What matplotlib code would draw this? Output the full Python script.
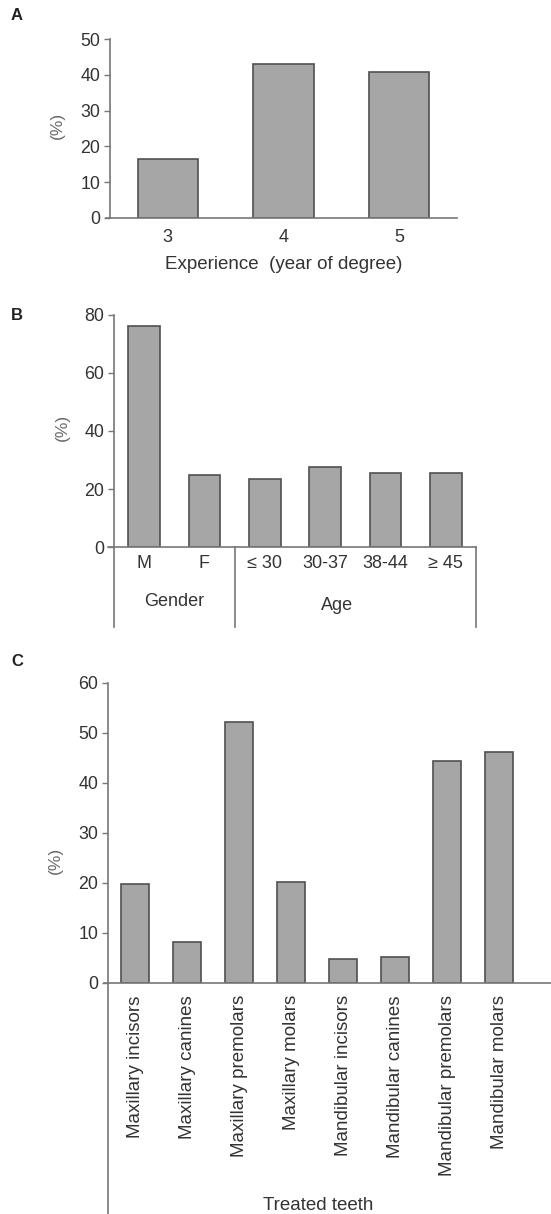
import matplotlib
matplotlib.use("Agg")
import matplotlib.pyplot as plt
import numpy as np

plt.rcParams['font.family'] = ['Liberation Sans', 'DejaVu Sans']

# ---- data ----
exp_categories = ["3", "4", "5"]
exp_values = [16.5, 43.0, 40.8]

demo_categories = ["M", "F", "\u2264 30", "30-37", "38-44", "\u2265 45"]
demo_values = [76.3, 24.8, 23.3, 27.7, 25.6, 25.6]
demo_groups = ["Gender", "Age"]
demo_group_sizes = [2, 4]

teeth_categories = ["Maxillary incisors", "Maxillary canines", "Maxillary premolars",
                    "Maxillary molars", "Mandibular incisors", "Mandibular canines",
                    "Mandibular premolars", "Mandibular molars"]
teeth_values = [19.7, 8.1, 52.1, 20.2, 4.7, 5.1, 44.4, 46.1]

W, H = 551, 1214
fig = plt.figure(figsize=(W / 100, H / 100), dpi=100)

BAR_FACE = "#a6a6a6"
BAR_EDGE = "#505050"
SPINE = "#777777"
TXT = "#333333"


def px_axes(left, right, top, bottom):
    return fig.add_axes([left / W, 1 - bottom / H, (right - left) / W, (bottom - top) / H])


def style(ax, ext_px):
    for s in ["top", "right"]:
        ax.spines[s].set_visible(False)
    for s in ["left", "bottom"]:
        ax.spines[s].set_color(SPINE)
        ax.spines[s].set_linewidth(1.2)
    ax.tick_params(axis="y", direction="out", length=4, width=1.0, color=SPINE,
                   labelsize=12.8, labelcolor=TXT, pad=3)
    ax.tick_params(axis="x", length=0, labelsize=13, labelcolor=TXT)
    # baseline extends slightly left of the y axis
    w_px = ax.get_position().width * W
    ax.plot([-ext_px / w_px, 0], [0, 0], transform=ax.transAxes, color=SPINE,
            lw=1.2, clip_on=False)


# ---- Panel A ----
axA = px_axes(110, 457, 39, 218)
xA = np.arange(len(exp_values))
axA.bar(xA, exp_values, width=0.52, color=BAR_FACE, edgecolor=BAR_EDGE, linewidth=1.2)
axA.set_xlim(-0.5, 2.5)
axA.set_ylim(0, 50)
axA.set_yticks(np.arange(0, 51, 10))
axA.set_xticks(xA)
axA.set_xticklabels(exp_categories)
style(axA, 4)
axA.tick_params(axis="x", pad=8)
axA.set_xlabel("Experience  (year of degree)", fontsize=13.5, color=TXT, labelpad=7)
fig.text(17 / W, 1 - 16 / H, "A", fontsize=12, fontweight="bold", color="#222222",
         ha="center", va="center")
fig.text(57 / W, 1 - 125 / H, "(%)", fontsize=12.5, color="#6a6a6a", rotation=90,
         ha="center", va="center")

# ---- Panel B ----
axB = px_axes(114, 476, 315, 547)
xB = np.arange(len(demo_values))
axB.bar(xB, demo_values, width=0.52, color=BAR_FACE, edgecolor=BAR_EDGE, linewidth=1.2)
axB.set_xlim(-0.5, len(demo_values) - 0.5)
axB.set_ylim(0, 80)
axB.set_yticks(np.arange(0, 81, 20))
axB.set_xticks(xB)
axB.set_xticklabels(demo_categories)
style(axB, 6)
axB.tick_params(axis="x", pad=6)
# group separators
drop = -80 / 232
bounds = np.concatenate([[0], np.cumsum(demo_group_sizes)]) - 0.5
trans = axB.get_xaxis_transform()
for b in bounds:
    axB.plot([b, b], [0, drop], transform=trans, color=SPINE, lw=1.2, clip_on=False)
group_x = [0.5, 3.2]
group_y = [-55 / 232, -58 / 232]
for g, gx, gy in zip(demo_groups, group_x, group_y):
    axB.text(gx, gy, g, transform=trans, ha="center", va="center", fontsize=13, color=TXT)
fig.text(17 / W, 1 - 315 / H, "B", fontsize=12, fontweight="bold", color="#222222",
         ha="center", va="center")
fig.text(62 / W, 1 - 427 / H, "(%)", fontsize=12.5, color="#6a6a6a", rotation=90,
         ha="center", va="center")

# ---- Panel C ----
axC = px_axes(108, 551, 682.7, 982.7)
xC = np.arange(len(teeth_values))
axC.bar(xC, teeth_values, width=0.54, color=BAR_FACE, edgecolor=BAR_EDGE, linewidth=1.2)
axC.set_xlim(-0.52, 8.0)
axC.set_ylim(0, 60)
axC.set_yticks(np.arange(0, 61, 10))
axC.set_xticks(xC)
axC.set_xticklabels(teeth_categories, rotation=90, va="top", ha="center")
style(axC, 4)
axC.tick_params(axis="x", pad=9, labelsize=13.5)
axC.plot([0, 0], [0, -(1214 - 982.7) / 300], transform=axC.transAxes, color=SPINE,
         lw=1.2, clip_on=False)
axC.text((318 - 108) / (551 - 108), -(1205 - 982.7) / 300, "Treated teeth",
         transform=axC.transAxes, ha="center", va="center", fontsize=13.5, color=TXT)
fig.text(17 / W, 1 - 662 / H, "C", fontsize=12, fontweight="bold", color="#222222",
         ha="center", va="center")
fig.text(55 / W, 1 - 860 / H, "(%)", fontsize=12.5, color="#6a6a6a", rotation=90,
         ha="center", va="center")

fig.savefig("out.png", dpi=100)
